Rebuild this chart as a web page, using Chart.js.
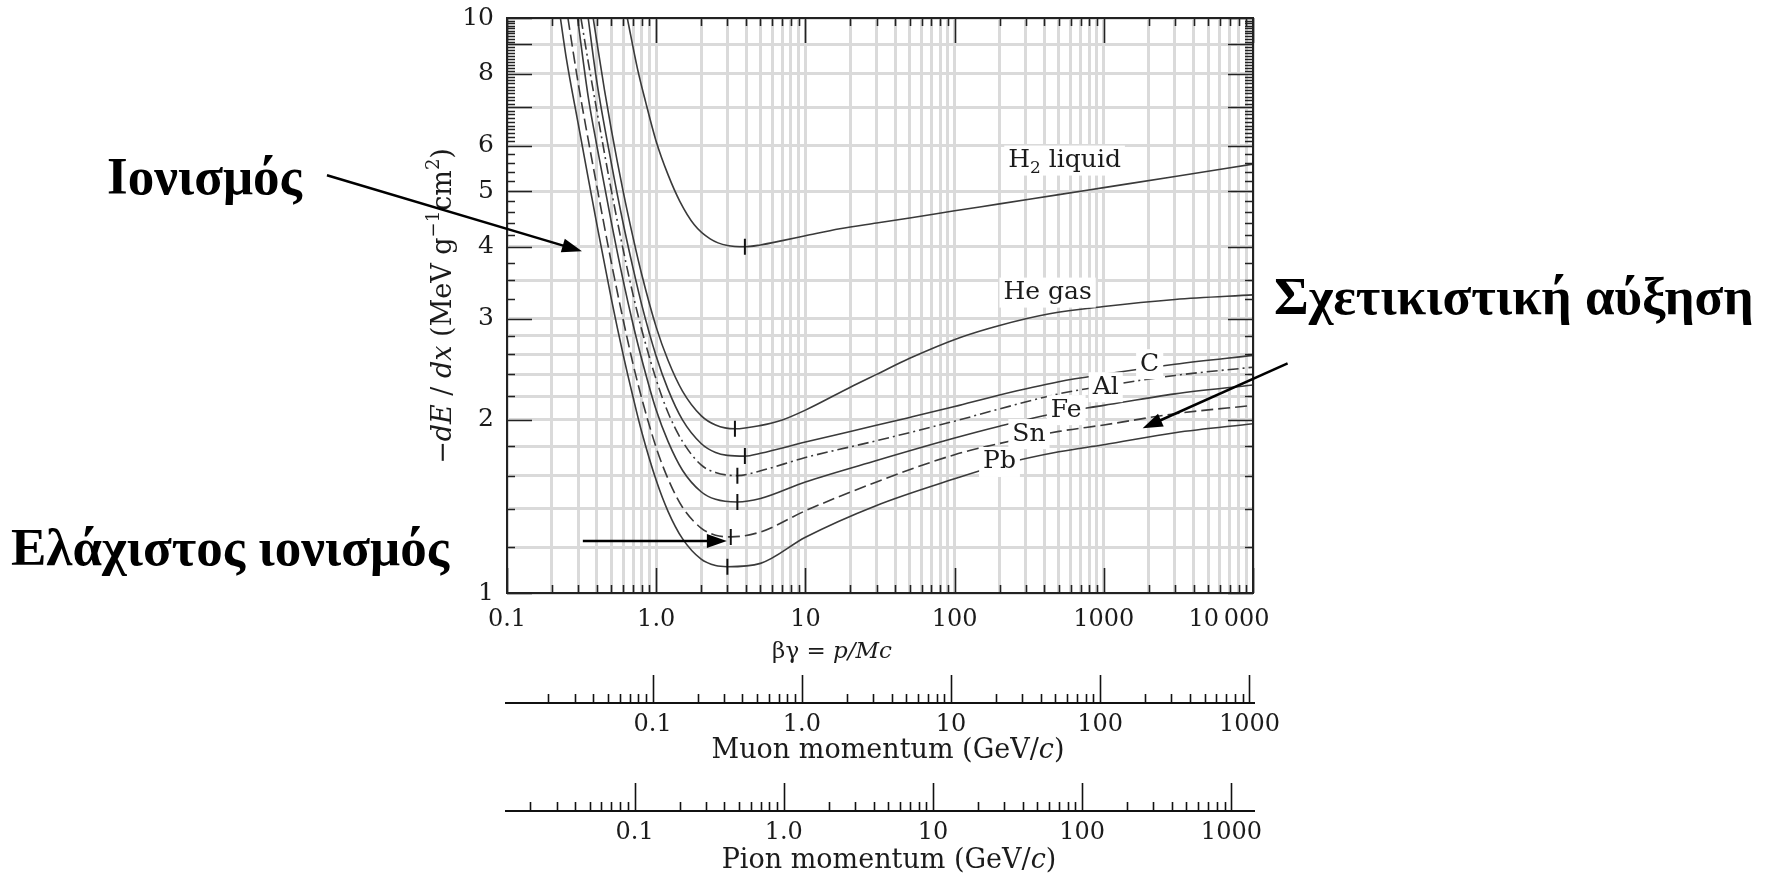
<!DOCTYPE html>
<html>
<head>
<meta charset="utf-8">
<script src="https://cdn.jsdelivr.net/npm/chart.js@4.4.1/dist/chart.umd.min.js"></script>
<style>
  html, body { margin: 0; padding: 0; background: #fff; }
</style>
</head>
<body>
<canvas id="chart" width="1771" height="875"></canvas>
<script>
// beta*gamma samples and -dE/dx (MeV g^-1 cm^2)
const h2Bg  = [0.64, 0.75, 0.85, 1.0, 1.2, 1.44, 1.8, 2.3, 3.0, 3.93, 5, 7, 10, 17, 30, 50, 100, 200, 500, 1000, 3000, 10000];
const h2Val = [10.0, 8.15, 7.14, 6.1, 5.34, 4.8, 4.37, 4.13, 4.02, 4.0, 4.03, 4.10, 4.18, 4.30, 4.40, 4.49, 4.62, 4.75, 4.93, 5.07, 5.30, 5.57];

const heBg  = [0.378, 0.4, 0.45, 0.5, 0.6, 0.7, 0.8, 1.0, 1.2, 1.5, 2.0, 2.5, 3.37, 4.95, 7, 10, 20, 30, 50, 108, 200, 433, 1000, 3000, 10000];
const heVal = [10.0, 9.1, 7.5, 6.4, 5.0, 4.15, 3.58, 2.9, 2.54, 2.245, 2.035, 1.96, 1.93, 1.955, 2.0, 2.08, 2.28, 2.40, 2.56, 2.78, 2.92, 3.06, 3.15, 3.24, 3.30];

const cBg  = [0.35, 0.4, 0.5, 0.6, 0.7, 0.8, 1.0, 1.2, 1.5, 2.0, 2.5, 3.0, 3.93, 5, 10, 20, 50, 100, 200, 500, 1000, 3000, 10000];
const cVal = [10.0, 7.75, 5.6, 4.4, 3.67, 3.17, 2.58, 2.26, 2.0, 1.82, 1.755, 1.735, 1.73, 1.75, 1.83, 1.91, 2.02, 2.11, 2.21, 2.33, 2.40, 2.50, 2.59];

const alBg  = [0.313, 0.35, 0.4, 0.5, 0.6, 0.7, 0.8, 1.0, 1.2, 1.5, 2.0, 2.5, 3.5, 4.95, 10, 30, 100, 200, 500, 1000, 3000, 10000];
const alVal = [10.0, 8.4, 6.9, 5.02, 3.96, 3.3, 2.87, 2.35, 2.06, 1.835, 1.67, 1.62, 1.60, 1.63, 1.72, 1.84, 1.99, 2.09, 2.22, 2.29, 2.39, 2.47];

const feBg  = [0.297, 0.35, 0.4, 0.5, 0.6, 0.7, 0.8, 1.0, 1.2, 1.5, 2.0, 2.5, 3.5, 5, 10, 30, 100, 200, 500, 1000, 3000, 10000];
const feVal = [10.0, 7.3, 6.0, 4.42, 3.5, 2.93, 2.55, 2.08, 1.835, 1.635, 1.50, 1.455, 1.44, 1.46, 1.56, 1.70, 1.86, 1.95, 2.06, 2.12, 2.22, 2.30];

const snBg  = [0.256, 0.3, 0.35, 0.4, 0.5, 0.6, 0.7, 0.8, 1.0, 1.2, 1.5, 2.0, 2.5, 3.16, 5, 10, 30, 100, 200, 500, 1000, 3000, 10000];
const snVal = [10.0, 7.7, 6.15, 5.1, 3.76, 2.99, 2.5, 2.18, 1.79, 1.58, 1.41, 1.297, 1.26, 1.252, 1.277, 1.39, 1.56, 1.74, 1.82, 1.91, 1.96, 2.05, 2.12];

const pbBg  = [0.228, 0.25, 0.3, 0.35, 0.4, 0.5, 0.6, 0.7, 0.8, 1.0, 1.2, 1.5, 2.0, 2.5, 3.0, 5, 10, 30, 100, 200, 500, 1000, 3000, 10000];
const pbVal = [10.0, 8.5, 6.55, 5.27, 4.38, 3.25, 2.6, 2.19, 1.905, 1.57, 1.387, 1.243, 1.145, 1.116, 1.111, 1.126, 1.25, 1.42, 1.58, 1.67, 1.76, 1.81, 1.90, 1.97];

// minimum-ionization markers (beta*gamma, dE/dx) for H2, He, C, Al, Fe, Sn, Pb
const minBg  = [3.93, 3.37, 3.93, 3.5, 3.5, 3.16, 3.0];
const minVal = [4.0, 1.93, 1.73, 1.60, 1.44, 1.252, 1.111];

// curve labels and where they sit
const curveNames = ['H2 liquid', 'He gas', 'C', 'Al', 'Fe', 'Sn', 'Pb'];
const labelBg  = [546, 420, 2030, 1030, 560, 315, 200];
const labelVal = [5.65, 3.33, 2.50, 2.28, 2.08, 1.89, 1.69];

// axes
const xLabels = { 0.1: '0.1', 1: '1.0', 10: '10', 100: '100', 1000: '1000', 10000: '10\u2009000\u2003\u2003' };
const yLabels = [1, 2, 3, 4, 5, 6, 8, 10];
const yGrid = [1, 1.2, 1.4, 1.6, 1.8, 2, 2.2, 2.4, 2.6, 2.8, 3, 3.5, 4, 5, 6, 7, 8, 9, 10];
const yMajorTicks = [1, 2, 3, 4, 5, 6, 7, 8, 9, 10];
const yMinorTicks = [1.2, 1.4, 1.6, 1.8, 2.2, 2.4, 2.6, 2.8, 3.25, 3.5, 3.75, 4.2, 4.4, 4.6, 4.8, 5.2, 5.4, 5.6, 5.8,
  6.1, 6.2, 6.3, 6.4, 6.5, 6.6, 6.7, 6.8, 6.9, 7.1, 7.2, 7.3, 7.4, 7.5, 7.6, 7.7, 7.8, 7.9,
  8.1, 8.2, 8.3, 8.4, 8.5, 8.6, 8.7, 8.8, 8.9, 9.1, 9.2, 9.3, 9.4, 9.5, 9.6, 9.7, 9.8, 9.9];
const momLabels = { 0.1: '0.1', 1: '1.0', 10: '10', 100: '100', 1000: '1000' };
const muonMass = 0.10566; // GeV/c^2
const pionMass = 0.13957;
const bgMin = 0.1, bgMax = 10000;

const serif = '"DejaVu Serif", serif';
const ink = '#1b1b1b';

function logTicks(lo, hi) {
  const out = [];
  for (let n = Math.floor(Math.log10(lo)) - 1; n <= Math.ceil(Math.log10(hi)); n++) {
    for (let k = 1; k <= 9; k++) {
      const v = k * Math.pow(10, n);
      if (v >= lo * 0.9999 && v <= hi * 1.0001) out.push({ v: v, major: k === 1 });
    }
  }
  return out;
}
function findLabel(map, v) {
  for (const key in map) if (Math.abs(v / Number(key) - 1) < 1e-6) return map[key];
  return '';
}

const curves = [
  { bg: h2Bg, val: h2Val, dash: [] },
  { bg: heBg, val: heVal, dash: [] },
  { bg: cBg, val: cVal, dash: [] },
  { bg: alBg, val: alVal, dash: [11, 4, 2, 4] },
  { bg: feBg, val: feVal, dash: [] },
  { bg: snBg, val: snVal, dash: [12, 5] },
  { bg: pbBg, val: pbVal, dash: [] },
];

function drawRich(ctx, parts, x, y, align) {
  let total = 0;
  parts.forEach(p => { ctx.font = p[1]; total += ctx.measureText(p[0]).width; });
  let cx = align === 'center' ? x - total / 2 : x;
  parts.forEach(p => {
    ctx.font = p[1];
    ctx.fillText(p[0], cx, y + (p[2] || 0));
    cx += ctx.measureText(p[0]).width;
  });
  return total;
}

function arrow(ctx, x0, y0, x1, y1) {
  const a = Math.atan2(y1 - y0, x1 - x0);
  const len = 20, half = 7;
  ctx.save();
  ctx.strokeStyle = '#000';
  ctx.fillStyle = '#000';
  ctx.lineWidth = 2.5;
  ctx.beginPath();
  ctx.moveTo(x0, y0);
  ctx.lineTo(x1 - Math.cos(a) * len * 0.8, y1 - Math.sin(a) * len * 0.8);
  ctx.stroke();
  ctx.beginPath();
  ctx.moveTo(x1, y1);
  ctx.lineTo(x1 - Math.cos(a) * len + Math.sin(a) * half, y1 - Math.sin(a) * len - Math.cos(a) * half);
  ctx.lineTo(x1 - Math.cos(a) * len - Math.sin(a) * half, y1 - Math.sin(a) * len + Math.cos(a) * half);
  ctx.closePath();
  ctx.fill();
  ctx.restore();
}

// white-backed curve labels
const curveLabels = {
  id: 'curveLabels',
  afterDatasetsDraw(chart) {
    const ctx = chart.ctx, xs = chart.scales.x, ys = chart.scales.y;
    ctx.save();
    ctx.textBaseline = 'middle';
    curveNames.forEach((name, i) => {
      const px = xs.getPixelForValue(labelBg[i]);
      const py = ys.getPixelForValue(labelVal[i]);
      const big = '25px ' + serif, small = '17px ' + serif;
      const parts = name === 'H2 liquid'
        ? [['H', big], ['2', small, 8], [' liquid', big]]
        : [[name, big]];
      let w = 0;
      parts.forEach(p => { ctx.font = p[1]; w += ctx.measureText(p[0]).width; });
      ctx.fillStyle = '#fff';
      ctx.fillRect(px - w / 2 - 4, py - 15, w + 8, 30);
      ctx.fillStyle = ink;
      drawRich(ctx, parts, px, py, 'center');
    });
    ctx.restore();
  }
};

// frame, inside ticks, momentum axes, titles, annotations
const decorations = {
  id: 'decorations',
  afterDraw(chart) {
    const ctx = chart.ctx, a = chart.chartArea;
    const xs = chart.scales.x, ys = chart.scales.y;
    const mu = chart.scales.muon, pi = chart.scales.pion;
    ctx.save();
    ctx.strokeStyle = '#222';
    ctx.lineWidth = 2;
    ctx.strokeRect(a.left, a.top, a.right - a.left, a.bottom - a.top);

    ctx.lineWidth = 1.6;
    ctx.beginPath();
    logTicks(bgMin, bgMax).forEach(t => {
      const px = Math.round(xs.getPixelForValue(t.v)) + 0.5;
      const l = t.major ? 25 : 8;
      ctx.moveTo(px, a.bottom); ctx.lineTo(px, a.bottom - l);
      ctx.moveTo(px, a.top); ctx.lineTo(px, a.top + l);
    });
    const yTicks = yMajorTicks.map(v => ({ v: v, l: 25 })).concat(yMinorTicks.map(v => ({ v: v, l: 8 })));
    yTicks.forEach(t => {
      const py = Math.round(ys.getPixelForValue(t.v)) + 0.5;
      ctx.moveTo(a.left, py); ctx.lineTo(a.left + t.l, py);
      ctx.moveTo(a.right, py); ctx.lineTo(a.right - t.l, py);
    });
    ctx.stroke();

    // minimum markers
    ctx.strokeStyle = '#111';
    ctx.lineWidth = 2;
    ctx.beginPath();
    minBg.forEach((b, i) => {
      const px = xs.getPixelForValue(b), py = ys.getPixelForValue(minVal[i]);
      ctx.moveTo(px, py - 8); ctx.lineTo(px, py + 8);
    });
    ctx.stroke();

    // momentum axes: line with upward ticks
    [mu, pi].forEach(s => {
      const ly = s.top + 31;
      ctx.strokeStyle = '#111';
      ctx.lineWidth = 2;
      ctx.beginPath();
      ctx.moveTo(a.left - 2, ly); ctx.lineTo(a.right + 2, ly);
      ctx.stroke();
      ctx.lineWidth = 1.6;
      ctx.beginPath();
      logTicks(s.min, s.max).forEach(t => {
        const px = Math.round(s.getPixelForValue(t.v)) + 0.5;
        ctx.moveTo(px, ly); ctx.lineTo(px, ly - (t.major ? 28 : 9));
      });
      ctx.stroke();
    });

    // axis titles
    ctx.fillStyle = ink;
    ctx.textBaseline = 'middle';
    const f = '23px ' + serif, fi = 'italic 23px ' + serif;
    const g = '27px ' + serif, gi = 'italic 27px ' + serif, gs = '18px ' + serif;
    drawRich(ctx, [['\u03b2\u03b3 = ', f], ['p/Mc', fi]], 832, xs.top + 59, 'center');
    drawRich(ctx, [['Muon momentum (GeV/', g], ['c', gi], [')', g]], 888, mu.top + 79, 'center');
    drawRich(ctx, [['Pion momentum (GeV/', g], ['c', gi], [')', g]], 889, pi.top + 81, 'center');

    ctx.save();
    ctx.translate(444, 306);
    ctx.rotate(-Math.PI / 2);
    drawRich(ctx, [['\u2212', g], ['dE', gi], [' / ', g], ['dx', gi], [' (MeV g', g], ['\u22121', gs, -10], ['cm', g], ['2', gs, -10], [')', g]], 0, 0, 'center');
    ctx.restore();

    // Greek annotations
    ctx.textBaseline = 'alphabetic';
    ctx.fillStyle = '#000';
    ctx.font = 'bold 53px "Liberation Serif", serif';
    ctx.fillText('\u0399\u03bf\u03bd\u03b9\u03c3\u03bc\u03cc\u03c2', 107, 194);
    ctx.fillText('\u0395\u03bb\u03ac\u03c7\u03b9\u03c3\u03c4\u03bf\u03c2 \u03b9\u03bf\u03bd\u03b9\u03c3\u03bc\u03cc\u03c2', 11, 565);
    ctx.fillText('\u03a3\u03c7\u03b5\u03c4\u03b9\u03ba\u03b9\u03c3\u03c4\u03b9\u03ba\u03ae \u03b1\u03cd\u03be\u03b7\u03c3\u03b7', 1274, 314);

    // arrows: tips anchored in data space
    const t1x = xs.getPixelForValue(0.318), t1y = ys.getPixelForValue(3.93);
    arrow(ctx, t1x - 255, t1y - 76, t1x, t1y);
    const t2x = xs.getPixelForValue(2.975), t2y = ys.getPixelForValue(1.231);
    arrow(ctx, t2x - 144, t2y, t2x, t2y);
    const t3x = xs.getPixelForValue(1820), t3y = ys.getPixelForValue(1.934);
    arrow(ctx, t3x + 145, t3y - 65, t3x, t3y);
    ctx.restore();
  }
};

const momAxis = (mass, weight, height) => ({
  type: 'logarithmic', position: 'bottom', weight: weight,
  min: bgMin * mass, max: bgMax * mass,
  afterBuildTicks: s => { s.ticks = [0.1, 1, 10, 100, 1000].map(v => ({ value: v })); },
  afterFit: s => { s.height = height; },
  grid: { display: false, drawTicks: false },
  border: { display: false },
  ticks: { autoSkip: false, maxRotation: 0, padding: 38, color: ink,
           font: { family: serif, size: 24 }, callback: v => findLabel(momLabels, v) }
});

new Chart(document.getElementById('chart'), {
  type: 'line',
  data: {
    datasets: curves.map((c, i) => ({
      label: curveNames[i],
      data: c.bg.map((b, j) => ({ x: b, y: c.val[j] })),
      borderColor: '#3a3a3a',
      borderWidth: 1.6,
      borderDash: c.dash,
      pointRadius: 0,
      cubicInterpolationMode: 'monotone',
      fill: false
    }))
  },
  options: {
    responsive: false,
    animation: false,
    devicePixelRatio: 1,
    layout: { padding: { left: 447, right: 518, top: 18, bottom: 0 } },
    plugins: { legend: { display: false }, tooltip: { enabled: false } },
    scales: {
      x: {
        type: 'logarithmic', position: 'bottom', weight: 0, min: bgMin, max: bgMax,
        afterBuildTicks: s => { s.ticks = logTicks(bgMin, bgMax).map(t => ({ value: t.v })); },
        afterFit: s => { s.height = 79; },
        grid: { color: '#dadada', lineWidth: 3, drawTicks: false },
        border: { display: false },
        ticks: { autoSkip: false, maxRotation: 0, padding: 12, color: ink,
                 font: { family: serif, size: 24 }, callback: v => findLabel(xLabels, v) }
      },
      muon: momAxis(muonMass, 1, 108),
      pion: momAxis(pionMass, 2, 95),
      y: {
        type: 'logarithmic', position: 'left', min: 1, max: 10,
        afterBuildTicks: s => { s.ticks = yGrid.map(v => ({ value: v })); },
        afterFit: s => { s.width = 60; },
        grid: { color: '#dadada', lineWidth: 3, drawTicks: false },
        border: { display: false },
        ticks: { autoSkip: false, padding: 13, color: ink, font: { family: serif, size: 25, lineHeight: 0.3 },
                 callback: v => (yLabels.some(l => Math.abs(l - v) < 1e-6) ? String(v) : '') }
      }
    }
  },
  plugins: [curveLabels, decorations]
});
</script>
</body>
</html>
